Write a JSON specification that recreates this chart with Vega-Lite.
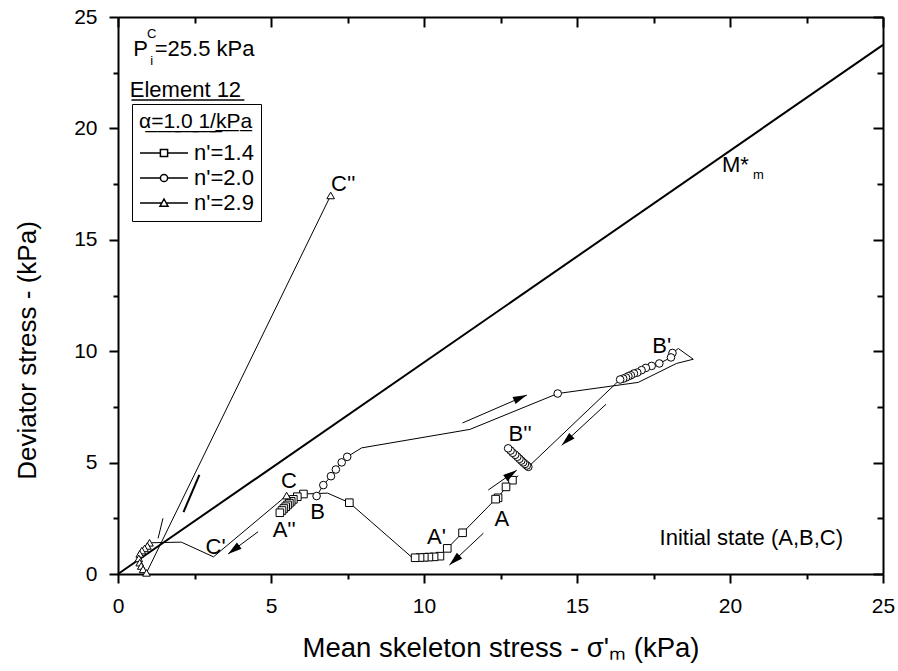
{
  "$schema": "https://vega.github.io/schema/vega-lite/v6.json",
  "width": 765,
  "height": 557,
  "autosize": {"type": "none"},
  "padding": {"left": 118, "top": 17, "right": 15, "bottom": 97},
  "config": {"font": "Liberation Sans", "view": {"stroke": null}, "axis": {"grid": false}},
  "datasets": {
    "pts": [
      {"s": "n'=1.4", "i": 0, "x": 13.08, "y": 4.41, "m": 0},
      {"s": "n'=1.4", "i": 1, "x": 12.89, "y": 4.21, "m": 1},
      {"s": "n'=1.4", "i": 2, "x": 12.68, "y": 3.91, "m": 1},
      {"s": "n'=1.4", "i": 3, "x": 12.42, "y": 3.42, "m": 1},
      {"s": "n'=1.4", "i": 4, "x": 12.34, "y": 3.36, "m": 1},
      {"s": "n'=1.4", "i": 5, "x": 11.26, "y": 1.85, "m": 1},
      {"s": "n'=1.4", "i": 6, "x": 10.76, "y": 1.15, "m": 1},
      {"s": "n'=1.4", "i": 7, "x": 10.52, "y": 0.8, "m": 1},
      {"s": "n'=1.4", "i": 8, "x": 10.33, "y": 0.77, "m": 1},
      {"s": "n'=1.4", "i": 9, "x": 10.16, "y": 0.76, "m": 1},
      {"s": "n'=1.4", "i": 10, "x": 10.01, "y": 0.75, "m": 1},
      {"s": "n'=1.4", "i": 11, "x": 9.87, "y": 0.74, "m": 1},
      {"s": "n'=1.4", "i": 12, "x": 9.71, "y": 0.73, "m": 1},
      {"s": "n'=1.4", "i": 13, "x": 9.62, "y": 0.73, "m": 0},
      {"s": "n'=1.4", "i": 14, "x": 7.56, "y": 3.2, "m": 1},
      {"s": "n'=1.4", "i": 15, "x": 6.85, "y": 3.63, "m": 0},
      {"s": "n'=1.4", "i": 16, "x": 6.06, "y": 3.59, "m": 1},
      {"s": "n'=1.4", "i": 17, "x": 5.86, "y": 3.47, "m": 1},
      {"s": "n'=1.4", "i": 18, "x": 5.73, "y": 3.35, "m": 1},
      {"s": "n'=1.4", "i": 19, "x": 5.66, "y": 3.26, "m": 1},
      {"s": "n'=1.4", "i": 20, "x": 5.6, "y": 3.18, "m": 1},
      {"s": "n'=1.4", "i": 21, "x": 5.54, "y": 3.1, "m": 1},
      {"s": "n'=1.4", "i": 22, "x": 5.48, "y": 3.02, "m": 1},
      {"s": "n'=1.4", "i": 23, "x": 5.42, "y": 2.94, "m": 1},
      {"s": "n'=1.4", "i": 24, "x": 5.36, "y": 2.85, "m": 1},
      {"s": "n'=1.4", "i": 25, "x": 5.29, "y": 2.75, "m": 1},
      {"s": "n'=2.0", "i": 0, "x": 6.49, "y": 3.5, "m": 1},
      {"s": "n'=2.0", "i": 1, "x": 6.71, "y": 3.99, "m": 1},
      {"s": "n'=2.0", "i": 2, "x": 6.96, "y": 4.39, "m": 1},
      {"s": "n'=2.0", "i": 3, "x": 7.12, "y": 4.69, "m": 1},
      {"s": "n'=2.0", "i": 4, "x": 7.31, "y": 5.01, "m": 1},
      {"s": "n'=2.0", "i": 5, "x": 7.49, "y": 5.26, "m": 1},
      {"s": "n'=2.0", "i": 6, "x": 7.96, "y": 5.66, "m": 0},
      {"s": "n'=2.0", "i": 7, "x": 11.5, "y": 6.49, "m": 0},
      {"s": "n'=2.0", "i": 8, "x": 14.37, "y": 8.1, "m": 1},
      {"s": "n'=2.0", "i": 9, "x": 17.0, "y": 8.6, "m": 0},
      {"s": "n'=2.0", "i": 10, "x": 18.25, "y": 9.45, "m": 0},
      {"s": "n'=2.0", "i": 11, "x": 18.8, "y": 9.64, "m": 0},
      {"s": "n'=2.0", "i": 12, "x": 18.31, "y": 10.12, "m": 0},
      {"s": "n'=2.0", "i": 13, "x": 18.12, "y": 9.92, "m": 1},
      {"s": "n'=2.0", "i": 14, "x": 18.07, "y": 9.72, "m": 1},
      {"s": "n'=2.0", "i": 15, "x": 17.69, "y": 9.45, "m": 1},
      {"s": "n'=2.0", "i": 16, "x": 17.44, "y": 9.34, "m": 1},
      {"s": "n'=2.0", "i": 17, "x": 17.25, "y": 9.25, "m": 1},
      {"s": "n'=2.0", "i": 18, "x": 17.11, "y": 9.15, "m": 1},
      {"s": "n'=2.0", "i": 19, "x": 16.97, "y": 9.04, "m": 1},
      {"s": "n'=2.0", "i": 20, "x": 16.86, "y": 9.0, "m": 1},
      {"s": "n'=2.0", "i": 21, "x": 16.76, "y": 8.92, "m": 1},
      {"s": "n'=2.0", "i": 22, "x": 16.68, "y": 8.88, "m": 1},
      {"s": "n'=2.0", "i": 23, "x": 16.6, "y": 8.82, "m": 1},
      {"s": "n'=2.0", "i": 24, "x": 16.51, "y": 8.77, "m": 1},
      {"s": "n'=2.0", "i": 25, "x": 16.41, "y": 8.73, "m": 1},
      {"s": "n'=2.0", "i": 26, "x": 13.41, "y": 4.81, "m": 1},
      {"s": "n'=2.0", "i": 27, "x": 13.36, "y": 4.87, "m": 1},
      {"s": "n'=2.0", "i": 28, "x": 13.3, "y": 4.94, "m": 1},
      {"s": "n'=2.0", "i": 29, "x": 13.24, "y": 5.01, "m": 1},
      {"s": "n'=2.0", "i": 30, "x": 13.18, "y": 5.09, "m": 1},
      {"s": "n'=2.0", "i": 31, "x": 13.12, "y": 5.17, "m": 1},
      {"s": "n'=2.0", "i": 32, "x": 13.05, "y": 5.26, "m": 1},
      {"s": "n'=2.0", "i": 33, "x": 12.98, "y": 5.35, "m": 1},
      {"s": "n'=2.0", "i": 34, "x": 12.9, "y": 5.44, "m": 1},
      {"s": "n'=2.0", "i": 35, "x": 12.83, "y": 5.54, "m": 1},
      {"s": "n'=2.0", "i": 36, "x": 12.75, "y": 5.64, "m": 1},
      {"s": "n'=2.9", "i": 0, "x": 5.51, "y": 3.52, "m": 1},
      {"s": "n'=2.9", "i": 1, "x": 3.12, "y": 0.77, "m": 0},
      {"s": "n'=2.9", "i": 2, "x": 2.07, "y": 1.43, "m": 0},
      {"s": "n'=2.9", "i": 3, "x": 1.03, "y": 1.4, "m": 1},
      {"s": "n'=2.9", "i": 4, "x": 0.96, "y": 1.26, "m": 1},
      {"s": "n'=2.9", "i": 5, "x": 0.87, "y": 1.15, "m": 1},
      {"s": "n'=2.9", "i": 6, "x": 0.78, "y": 1.05, "m": 1},
      {"s": "n'=2.9", "i": 7, "x": 0.71, "y": 0.9, "m": 1},
      {"s": "n'=2.9", "i": 8, "x": 0.68, "y": 0.7, "m": 1},
      {"s": "n'=2.9", "i": 9, "x": 0.71, "y": 0.51, "m": 1},
      {"s": "n'=2.9", "i": 10, "x": 0.76, "y": 0.36, "m": 1},
      {"s": "n'=2.9", "i": 11, "x": 0.82, "y": 0.21, "m": 1},
      {"s": "n'=2.9", "i": 12, "x": 0.93, "y": 0.05, "m": 1},
      {"s": "n'=2.9", "i": 13, "x": 6.95, "y": 16.99, "m": 1}
    ],
    "arrows": [
      {"x": 4.58, "y": 1.9, "x2": 3.6, "y2": 0.9, "a": 233},
      {"x": 11.94, "y": 1.83, "x2": 10.83, "y2": 0.4, "a": 227},
      {"x": 12.1, "y": 3.77, "x2": 13.03, "y2": 4.66, "a": 55},
      {"x": 11.26, "y": 6.78, "x2": 13.36, "y2": 8.03, "a": 67},
      {"x": 15.95, "y": 7.62, "x2": 14.5, "y2": 5.78, "a": 227}
    ],
    "labels": [
      {"x": 7.36, "y": 17.49, "t": "C''"},
      {"x": 5.59, "y": 4.16, "t": "C"},
      {"x": 6.52, "y": 2.79, "t": "B"},
      {"x": 5.43, "y": 1.97, "t": "A''"},
      {"x": 3.19, "y": 1.19, "t": "C'"},
      {"x": 10.41, "y": 1.64, "t": "A'"},
      {"x": 12.54, "y": 2.47, "t": "A"},
      {"x": 13.14, "y": 6.27, "t": "B''"},
      {"x": 17.77, "y": 10.23, "t": "B'"}
    ]
  },
  "layer": [
    {
      "data": {"values": [{"x": 0, "y": 0}, {"x": 25, "y": 23.75}]},
      "mark": {"type": "line", "color": "black", "strokeWidth": 2},
      "encoding": {
        "x": {"field": "x", "type": "quantitative", "scale": {"domain": [0, 25], "nice": false, "zero": false},
          "axis": {"orient": "top", "values": [0, 2.5, 5, 7.5, 10, 12.5, 15, 17.5, 20, 22.5, 25], "labels": false, "title": null,
            "tickSize": {"condition": {"test": "datum.value % 5 === 0", "value": -10}, "value": -6},
            "tickWidth": 2, "tickColor": "black", "domainColor": "black", "domainWidth": 2}},
        "y": {"field": "y", "type": "quantitative", "scale": {"domain": [0, 25], "nice": false, "zero": false},
          "axis": {"orient": "right", "values": [0, 2.5, 5, 7.5, 10, 12.5, 15, 17.5, 20, 22.5, 25], "labels": false, "title": null,
            "tickSize": {"condition": {"test": "datum.value % 5 === 0", "value": -10}, "value": -6},
            "tickWidth": 2, "tickColor": "black", "domainColor": "black", "domainWidth": 2}}
      }
    },
    {
      "layer": [
        {
          "data": {"name": "pts"},
          "mark": {"type": "line", "color": "black", "strokeWidth": 1},
          "encoding": {
            "x": {"field": "x", "type": "quantitative", "scale": {"domain": [0, 25], "nice": false, "zero": false},
              "axis": {"orient": "bottom", "values": [0, 2.5, 5, 7.5, 10, 12.5, 15, 17.5, 20, 22.5, 25],
                "labelExpr": "datum.value % 5 === 0 ? datum.label : ''",
                "tickSize": {"condition": {"test": "datum.value % 5 === 0", "value": 9}, "value": 5},
                "tickWidth": 2, "tickColor": "black", "domainColor": "black", "domainWidth": 2,
                "labelFont": "Liberation Sans", "labelFontSize": 21, "labelColor": "black", "labelPadding": 12,
                "labelFlush": false, "labelOverlap": false, "labelBound": false,
                "title": "Mean skeleton stress - σ'ₘ (kPa)", "titleFont": "Liberation Sans", "titleFontSize": 27.5,
                "titleFontWeight": "normal", "titleColor": "black", "titlePadding": 18}},
            "y": {"field": "y", "type": "quantitative", "scale": {"domain": [0, 25], "nice": false, "zero": false},
              "axis": {"orient": "left", "values": [0, 2.5, 5, 7.5, 10, 12.5, 15, 17.5, 20, 22.5, 25],
                "labelExpr": "datum.value % 5 === 0 ? datum.label : ''",
                "tickSize": {"condition": {"test": "datum.value % 5 === 0", "value": 9}, "value": 5},
                "tickWidth": 2, "tickColor": "black", "domainColor": "black", "domainWidth": 2,
                "labelFont": "Liberation Sans", "labelFontSize": 21, "labelColor": "black", "labelPadding": 12,
                "labelFlush": false, "labelOverlap": false, "labelBound": false,
                "title": "Deviator stress - (kPa)", "titleFont": "Liberation Sans", "titleFontSize": 26,
                "titleFontWeight": "normal", "titleColor": "black", "titlePadding": 33, "titleY": 333}},
            "detail": {"field": "s", "type": "nominal"},
            "order": {"field": "i", "type": "quantitative"}
          }
        },
        {
          "data": {"values": [{"x": 2.14, "y": 2.78, "x2": 2.66, "y2": 4.45}]},
          "mark": {"type": "rule", "color": "black", "strokeWidth": 2},
          "encoding": {
            "x": {"field": "x", "type": "quantitative"},
            "y": {"field": "y", "type": "quantitative"},
            "x2": {"field": "x2"},
            "y2": {"field": "y2"}
          }
        },
        {
          "data": {"values": [{"x": 1.31, "y": 1.6, "x2": 1.47, "y2": 2.5}]},
          "mark": {"type": "rule", "color": "black", "strokeWidth": 1},
          "encoding": {
            "x": {"field": "x", "type": "quantitative"},
            "y": {"field": "y", "type": "quantitative"},
            "x2": {"field": "x2"},
            "y2": {"field": "y2"}
          }
        },
        {
          "data": {"name": "pts"},
          "transform": [{"filter": "datum.m === 1"}],
          "mark": {"type": "point", "filled": true, "fill": "white", "stroke": "black", "strokeWidth": 1, "opacity": 1, "size": 58},
          "encoding": {
            "x": {"field": "x", "type": "quantitative"},
            "y": {"field": "y", "type": "quantitative"},
            "shape": {"field": "s", "type": "nominal",
              "scale": {"domain": ["n'=1.4", "n'=2.0", "n'=2.9"], "range": ["square", "circle", "triangle-up"]},
              "legend": null}
          }
        },
        {
          "data": {"name": "pts"},
          "transform": [{"filter": "datum.m === 7"}],
          "mark": {"type": "point", "filled": true, "fill": "white", "stroke": "black", "strokeWidth": 1, "opacity": 1, "size": 256},
          "encoding": {
            "x": {"field": "x", "type": "quantitative"},
            "y": {"field": "y", "type": "quantitative"},
            "shape": {"field": "s", "type": "nominal", "title": "α̲=̲1̲.̲0̲ ̲1̲/̲k̲P̲a̲",
              "scale": {"domain": ["n'=1.4", "n'=2.0", "n'=2.9"],
                "range": ["M-3,0L-0.45,0M0.45,0L3,0M-0.45,-0.45L0.45,-0.45L0.45,0.45L-0.45,0.45Z", "M-3,0L-0.45,0M0.45,0L3,0M-0.45,0A0.45,0.45 0 1,0 0.45,0A0.45,0.45 0 1,0 -0.45,0Z", "M-3,0L-0.28,0M0.28,0L3,0M0,-0.5L0.5,0.4L-0.5,0.4Z"]},
              "legend": {"orient": "none", "legendX": 14, "legendY": 87,
                "titleFont": "Liberation Sans", "titleFontSize": 21, "titleFontWeight": "normal",
                "titleColor": "black", "titlePadding": 10, "titleLimit": 300,
                "labelFont": "Liberation Sans", "labelFontSize": 22, "labelColor": "black", "labelLimit": 200,
                "labelOffset": 19, "symbolOffset": 14, "symbolSize": 256, "rowPadding": 3, "padding": 7,
                "strokeColor": "black"}}
          }
        },
        {
          "data": {"name": "arrows"},
          "mark": {"type": "rule", "color": "black", "strokeWidth": 1},
          "encoding": {
            "x": {"field": "x", "type": "quantitative"},
            "y": {"field": "y", "type": "quantitative"},
            "x2": {"field": "x2"},
            "y2": {"field": "y2"}
          }
        },
        {
          "data": {"name": "arrows"},
          "mark": {"type": "point", "shape": "M0,0L0.45,1.6L-0.45,1.6Z", "filled": true, "color": "black", "opacity": 1, "size": 300},
          "encoding": {
            "x": {"field": "x2", "type": "quantitative"},
            "y": {"field": "y2", "type": "quantitative"},
            "angle": {"field": "a", "type": "quantitative", "scale": null}
          }
        },
        {
          "data": {"name": "labels"},
          "mark": {"type": "text", "font": "Liberation Sans", "fontSize": 22, "color": "black", "align": "center", "baseline": "middle"},
          "encoding": {
            "x": {"field": "x", "type": "quantitative"},
            "y": {"field": "y", "type": "quantitative"},
            "text": {"field": "t"}
          }
        },
        {
          "data": {"values": [
            {"x": 17.7, "y": 1.3, "t": "Initial state (A,B,C)"},
            {"x": 0.386, "y": 21.4, "t": "Element 12"},
            {"x": 0.5, "y": 23.27, "t": "P"},
            {"x": 1.2, "y": 23.27, "t": "=25.5 kPa"},
            {"x": 19.74, "y": 18.03, "t": "M*"}
          ]},
          "mark": {"type": "text", "font": "Liberation Sans", "fontSize": 22, "color": "black", "align": "left", "baseline": "alphabetic"},
          "encoding": {
            "x": {"field": "x", "type": "quantitative"},
            "y": {"field": "y", "type": "quantitative"},
            "text": {"field": "t"}
          }
        },
        {
          "data": {"values": [{"x": 0.44, "x2": 4.13, "y": 21.27}]},
          "mark": {"type": "rule", "color": "black", "strokeWidth": 1.5},
          "encoding": {
            "x": {"field": "x", "type": "quantitative"},
            "x2": {"field": "x2"},
            "y": {"field": "y", "type": "quantitative"}
          }
        },
        {
          "data": {"values": [
            {"x": 0.95, "y": 24.04, "t": "C"},
            {"x": 1.05, "y": 22.83, "t": "i"},
            {"x": 20.75, "y": 17.72, "t": "m"}
          ]},
          "mark": {"type": "text", "font": "Liberation Sans", "fontSize": 13, "color": "black", "align": "left", "baseline": "alphabetic"},
          "encoding": {
            "x": {"field": "x", "type": "quantitative"},
            "y": {"field": "y", "type": "quantitative"},
            "text": {"field": "t"}
          }
        }
      ],
      "resolve": {"scale": {"shape": "independent"}}
    }
  ],
  "resolve": {"axis": {"x": "independent", "y": "independent"}}
}
